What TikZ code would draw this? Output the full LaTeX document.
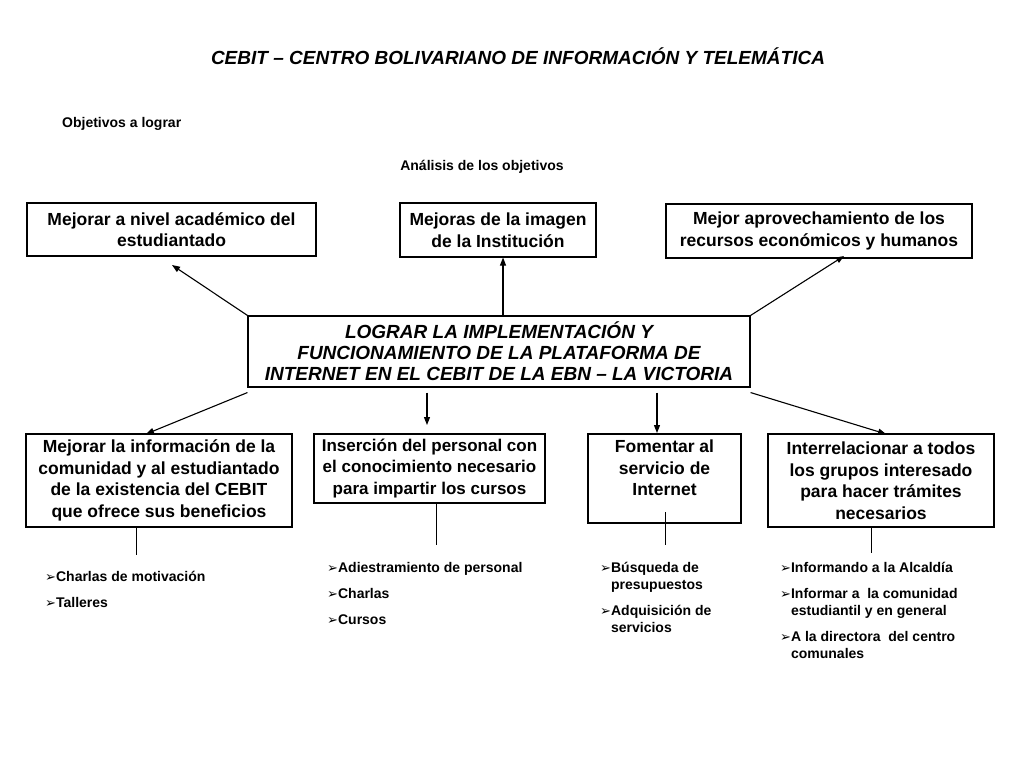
\documentclass[tikz,border=0pt]{standalone}
\usepackage{fontspec}
\setmainfont{Liberation Sans}
\newfontfamily\dejavu{DejaVu Sans}
\usetikzlibrary{arrows.meta, positioning, calc}

\newcommand{\blt}{{\dejavu\fontsize{13}{13}\selectfont ➢}}
\newcommand{\bltgap}{\hphantom{\blt}}

\begin{document}
\begin{tikzpicture}[x=1pt, y=-1pt]
    % --- Style Definitions ---
    \tikzset{
        goal box/.style={
            draw=black,
            line width=1.1pt,
            align=center,
            inner sep=0pt,
            font=\bfseries\fontsize{17.5}{21.5}\selectfont
        },
        main box/.style={
            goal box,
            font=\bfseries\itshape\fontsize{19}{21}\selectfont
        },
        link arrow/.style={
            -{Triangle[length=8pt, width=6pt]},
            line width=1.1pt
        },
        stub line/.style={
            line width=0.8pt
        },
        list text/.style={
            anchor=north west,
            align=left,
            inner sep=0pt,
            font=\bfseries\fontsize{14}{17}\selectfont
        },
        label text/.style={
            font=\bfseries\fontsize{14}{17}\selectfont
        }
    }

    \useasboundingbox (0,0) rectangle (1024,768);

    % --- 1. Titles ---
    \node[font=\bfseries\itshape\fontsize{19}{21}\selectfont] (title) at (518,56)
        {CEBIT – CENTRO BOLIVARIANO DE INFORMACIÓN Y TELEMÁTICA};
    \node[label text, anchor=west, inner sep=0pt] (objetivos) at (62,124) {Objetivos a lograr};
    \node[label text] (analisis) at (482,167) {Análisis de los objetivos};

    % --- 2. Upper goals ---
    \node[goal box, minimum width=289, minimum height=53] (academico) at (171.5,229.5)
        {Mejorar a nivel académico del\\estudiantado};
    \node[goal box, minimum width=196, minimum height=54] (imagen) at (498,230)
        {Mejoras de la imagen\\de la Institución};
    \node[goal box, minimum width=306, minimum height=54] (recursos) at (819,231)
        {Mejor aprovechamiento de los\\recursos económicos y humanos};

    % --- 3. Central goal ---
    \node[main box, minimum width=502, minimum height=71] (logro) at (499,351.5)
        {LOGRAR LA IMPLEMENTACIÓN Y\\FUNCIONAMIENTO DE LA PLATAFORMA DE\\INTERNET EN EL CEBIT DE LA EBN – LA VICTORIA};

    % --- 4. Lower goals ---
    \node[goal box, minimum width=266, minimum height=93] (informacion) at (159,480.5)
        {Mejorar la información de la\\comunidad y al estudiantado\\de la existencia del CEBIT\\que ofrece sus beneficios};
    \node[goal box, minimum width=231, minimum height=69,
          font=\bfseries\fontsize{17}{21.5}\selectfont] (insercion) at (429.5,468.5)
        {Inserción del personal con\\el conocimiento necesario\\para impartir los cursos};
    \node[goal box, minimum width=153, minimum height=89] (fomentar) at (664.5,478.5)
        {Fomentar al\\servicio de\\Internet\\\mbox{}};
    \node[goal box, minimum width=226, minimum height=93] (grupos) at (881,480.5)
        {Interrelacionar a todos\\los grupos interesado\\para hacer trámites\\necesarios};

    % --- 5. Arrows ---
    \coordinate (up left) at (172,265);
    \coordinate (up right) at (844,256);
    \coordinate (down a) at (146,434);
    \coordinate (down b) at (427,425);
    \coordinate (down c) at (657,433);
    \coordinate (down d) at (886,434);

    \draw[link arrow] (logro.north west) -- (up left);
    \draw[link arrow] (logro.north -| 503,0) -- (imagen.south -| 503,0);
    \draw[link arrow] (logro.north east) -- (up right);

    \draw[link arrow] ([yshift=-5pt]logro.south west) -- (down a);
    \draw[link arrow] ([yshift=-5pt]logro.south -| down b) -- (down b);
    \draw[link arrow] ([yshift=-5pt]logro.south -| down c) -- (down c);
    \draw[link arrow] ([yshift=-5pt]logro.south east) -- (down d);

    % --- 6. Stubs below the lower goals ---
    \coordinate (stub a) at (136,555);
    \coordinate (stub b) at (436,545);
    \coordinate (stub c) at (665,545);
    \coordinate (stub d) at (871,553);

    \draw[stub line] (stub a |- informacion.south) -- (stub a);
    \draw[stub line] (stub b |- insercion.south) -- (stub b);
    \draw[stub line] (stub c |- 0,512) -- (stub c);
    \draw[stub line] (stub d |- grupos.south) -- (stub d);

    % --- 7. Action lists ---
    \node[list text] (lista a) at (45,571)
        {\blt Charlas de motivación\\[9pt]\blt Talleres};
    \node[list text] (lista b) at (327,562)
        {\blt Adiestramiento de personal\\[9pt]\blt Charlas\\[9pt]\blt Cursos};
    \node[list text] (lista c) at (600,562)
        {\blt Búsqueda de\\\bltgap presupuestos\\[9pt]\blt Adquisición de\\\bltgap servicios};
    \node[list text] (lista d) at (780,562)
        {\blt Informando a la Alcaldía\\[9pt]\blt Informar a \ la comunidad\\\bltgap estudiantil y en general\\[9pt]\blt A la directora \ del centro\\\bltgap comunales};

\end{tikzpicture}
\end{document}
